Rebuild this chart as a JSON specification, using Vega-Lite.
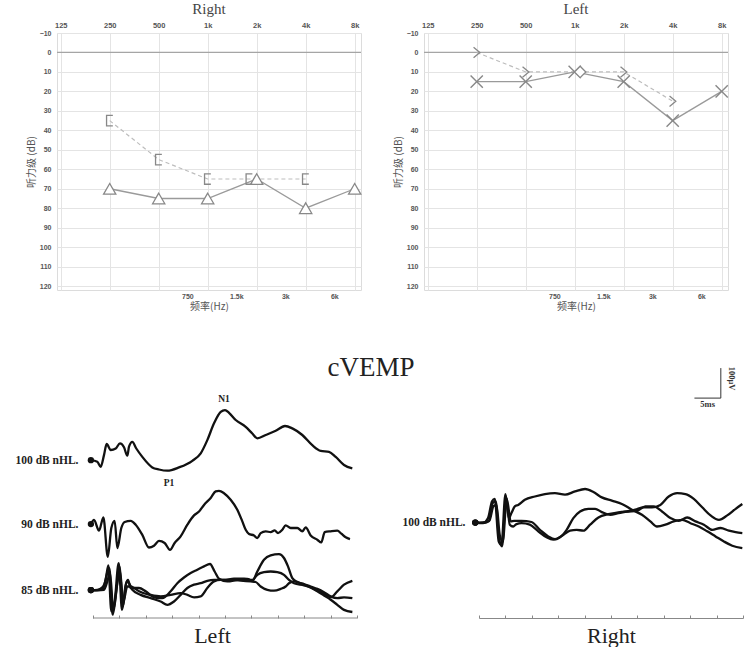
{
  "$schema": "https://vega.github.io/schema/vega-lite/v6.json",
  "background": "white",
  "padding": {"left": 15, "top": 1, "right": 0, "bottom": 0},
  "config": {
    "view": {"stroke": null},
    "axis": {"labelFont": "Liberation Sans", "titleFont": "Noto Sans CJK SC", "labelOverlap": false},
    "title": {"font": "Liberation Serif", "fontWeight": "normal"}
  },
  "datasets": {
    "audR": [
      {"s": "AC", "f": 250, "db": 70}, {"s": "AC", "f": 500, "db": 75}, {"s": "AC", "f": 1000, "db": 75},
      {"s": "AC", "f": 2000, "db": 65}, {"s": "AC", "f": 4000, "db": 80}, {"s": "AC", "f": 8000, "db": 70},
      {"s": "BC", "f": 250, "db": 35}, {"s": "BC", "f": 500, "db": 55}, {"s": "BC", "f": 1000, "db": 65},
      {"s": "BC", "f": 1800, "db": 65}, {"s": "BC", "f": 4000, "db": 65}
    ],
    "audL": [
      {"s": "AC", "f": 250, "db": 15}, {"s": "AC", "f": 500, "db": 15}, {"s": "AC", "f": 1000, "db": 10},
      {"s": "AC", "f": 2000, "db": 15}, {"s": "AC", "f": 4000, "db": 35}, {"s": "AC", "f": 8000, "db": 20},
      {"s": "BC", "f": 250, "db": 0}, {"s": "BC", "f": 500, "db": 10}, {"s": "BC", "f": 1080, "db": 10},
      {"s": "BC", "f": 2000, "db": 10}, {"s": "BC", "f": 4000, "db": 25}
    ],
    "zero": [{"db": 0}],
    "peaks": [
      {"peak": "N1", "t": 24.8, "v": 600},
      {"peak": "P1", "t": 14.4, "v": 398}
    ],
    "axisL": [{"label": "Left"}],
    "bar5ms": [{"label": "5ms"}],
    "bar100": [{"label": "100μV"}],
    "wL": [
      {"tr":"100","t":-0.4,"v":433},{"tr":"100","t":0.81,"v":428},{"tr":"100","t":1.46,"v":411},{"tr":"100","t":2.08,"v":450},{"tr":"100","t":2.59,"v":487},{"tr":"100","t":3.35,"v":467},{"tr":"100","t":4.3,"v":472},{"tr":"100","t":5.11,"v":489},{"tr":"100","t":5.87,"v":476},{"tr":"100","t":6.5,"v":448},{"tr":"100","t":6.82,"v":478},{"tr":"100","t":7.44,"v":494},{"tr":"100","t":8.2,"v":472},{"tr":"100","t":9.34,"v":444},{"tr":"100","t":11.23,"v":409},{"tr":"100","t":12.5,"v":402},{"tr":"100","t":14.07,"v":398},{"tr":"100","t":16.29,"v":409},{"tr":"100","t":18.81,"v":431},{"tr":"100","t":20.4,"v":456},{"tr":"100","t":21.65,"v":500},{"tr":"100","t":22.92,"v":556},{"tr":"100","t":24.19,"v":594},{"tr":"100","t":25.0,"v":600},{"tr":"100","t":25.76,"v":591},{"tr":"100","t":27.03,"v":567},{"tr":"100","t":28.92,"v":544},{"tr":"100","t":30.17,"v":522},{"tr":"100","t":31.12,"v":506},{"tr":"100","t":32.71,"v":517},{"tr":"100","t":34.6,"v":531},{"tr":"100","t":36.36,"v":547},{"tr":"100","t":37.75,"v":539},{"tr":"100","t":39.64,"v":517},{"tr":"100","t":41.53,"v":483},{"tr":"100","t":43.13,"v":464},{"tr":"100","t":44.7,"v":461},{"tr":"100","t":45.97,"v":444},{"tr":"100","t":47.54,"v":417},{"tr":"100","t":49.11,"v":406},
      {"tr":"90","t":-0.4,"v":220},{"tr":"90","t":0.19,"v":234},{"tr":"90","t":1.14,"v":198},{"tr":"90","t":1.96,"v":242},{"tr":"90","t":2.8,"v":111},{"tr":"90","t":3.47,"v":207},{"tr":"90","t":4.1,"v":231},{"tr":"90","t":4.61,"v":140},{"tr":"90","t":5.36,"v":207},{"tr":"90","t":6.0,"v":227},{"tr":"90","t":7.14,"v":231},{"tr":"90","t":8.08,"v":218},{"tr":"90","t":9.34,"v":184},{"tr":"90","t":10.6,"v":142},{"tr":"90","t":11.55,"v":148},{"tr":"90","t":12.5,"v":164},{"tr":"90","t":13.57,"v":157},{"tr":"90","t":14.58,"v":134},{"tr":"90","t":15.46,"v":157},{"tr":"90","t":16.6,"v":179},{"tr":"90","t":17.87,"v":218},{"tr":"90","t":19.13,"v":249},{"tr":"90","t":20.08,"v":262},{"tr":"90","t":21.02,"v":284},{"tr":"90","t":22.29,"v":307},{"tr":"90","t":23.23,"v":329},{"tr":"90","t":23.86,"v":331},{"tr":"90","t":24.81,"v":323},{"tr":"90","t":26.07,"v":301},{"tr":"90","t":27.33,"v":268},{"tr":"90","t":28.28,"v":229},{"tr":"90","t":28.92,"v":201},{"tr":"90","t":29.55,"v":187},{"tr":"90","t":30.49,"v":182},{"tr":"90","t":31.12,"v":173},{"tr":"90","t":31.76,"v":190},{"tr":"90","t":32.71,"v":196},{"tr":"90","t":33.65,"v":193},{"tr":"90","t":34.41,"v":199},{"tr":"90","t":35.04,"v":190},{"tr":"90","t":35.85,"v":201},{"tr":"90","t":36.49,"v":216},{"tr":"90","t":37.44,"v":207},{"tr":"90","t":38.7,"v":207},{"tr":"90","t":39.64,"v":196},{"tr":"90","t":40.28,"v":209},{"tr":"90","t":41.23,"v":182},{"tr":"90","t":42.48,"v":168},{"tr":"90","t":43.24,"v":159},{"tr":"90","t":43.88,"v":193},{"tr":"90","t":45.02,"v":196},{"tr":"90","t":46.27,"v":198},{"tr":"90","t":47.03,"v":188},{"tr":"90","t":47.86,"v":176},{"tr":"90","t":48.67,"v":170},
      {"tr":"85A","t":-0.4,"v":0},{"tr":"85A","t":0.82,"v":1},{"tr":"85A","t":1.77,"v":9},{"tr":"85A","t":2.4,"v":34},{"tr":"85A","t":2.9,"v":82},{"tr":"85A","t":3.47,"v":-71},{"tr":"85A","t":4.1,"v":-38},{"tr":"85A","t":4.86,"v":90},{"tr":"85A","t":5.49,"v":-66},{"tr":"85A","t":6.19,"v":18},{"tr":"85A","t":6.63,"v":34},{"tr":"85A","t":7.13,"v":7},{"tr":"85A","t":8.71,"v":7},{"tr":"85A","t":9.97,"v":-4},{"tr":"85A","t":11.55,"v":-24},{"tr":"85A","t":13.13,"v":-27},{"tr":"85A","t":14.71,"v":-4},{"tr":"85A","t":15.97,"v":23},{"tr":"85A","t":17.23,"v":42},{"tr":"85A","t":18.5,"v":57},{"tr":"85A","t":19.76,"v":68},{"tr":"85A","t":21.02,"v":79},{"tr":"85A","t":22.16,"v":87},{"tr":"85A","t":23.04,"v":62},{"tr":"85A","t":23.86,"v":38},{"tr":"85A","t":25.44,"v":29},{"tr":"85A","t":27.34,"v":34},{"tr":"85A","t":29.23,"v":37},{"tr":"85A","t":30.18,"v":31},{"tr":"85A","t":31.12,"v":62},{"tr":"85A","t":32.38,"v":101},{"tr":"85A","t":33.65,"v":116},{"tr":"85A","t":35.23,"v":120},{"tr":"85A","t":36.17,"v":107},{"tr":"85A","t":36.93,"v":79},{"tr":"85A","t":37.75,"v":40},{"tr":"85A","t":38.7,"v":27},{"tr":"85A","t":39.96,"v":20},{"tr":"85A","t":41.22,"v":12},{"tr":"85A","t":42.49,"v":4},{"tr":"85A","t":43.75,"v":-7},{"tr":"85A","t":45.01,"v":-21},{"tr":"85A","t":46.27,"v":-27},{"tr":"85A","t":47.54,"v":-24},{"tr":"85A","t":49.12,"v":-27},
      {"tr":"85B","t":-0.4,"v":0},{"tr":"85B","t":0.82,"v":-1},{"tr":"85B","t":1.96,"v":7},{"tr":"85B","t":2.59,"v":51},{"tr":"85B","t":3.09,"v":73},{"tr":"85B","t":3.72,"v":-82},{"tr":"85B","t":4.42,"v":-4},{"tr":"85B","t":4.99,"v":79},{"tr":"85B","t":5.68,"v":-54},{"tr":"85B","t":6.38,"v":29},{"tr":"85B","t":6.82,"v":23},{"tr":"85B","t":7.45,"v":1},{"tr":"85B","t":9.03,"v":-16},{"tr":"85B","t":10.92,"v":-27},{"tr":"85B","t":12.82,"v":-38},{"tr":"85B","t":14.08,"v":-49},{"tr":"85B","t":15.34,"v":-38},{"tr":"85B","t":16.6,"v":-16},{"tr":"85B","t":17.87,"v":7},{"tr":"85B","t":19.13,"v":18},{"tr":"85B","t":20.39,"v":23},{"tr":"85B","t":21.65,"v":31},{"tr":"85B","t":22.92,"v":34},{"tr":"85B","t":24.81,"v":34},{"tr":"85B","t":26.7,"v":38},{"tr":"85B","t":28.6,"v":38},{"tr":"85B","t":30.18,"v":34},{"tr":"85B","t":31.12,"v":51},{"tr":"85B","t":32.38,"v":60},{"tr":"85B","t":33.65,"v":62},{"tr":"85B","t":34.91,"v":60},{"tr":"85B","t":36.17,"v":51},{"tr":"85B","t":37.12,"v":34},{"tr":"85B","t":38.07,"v":23},{"tr":"85B","t":39.96,"v":16},{"tr":"85B","t":41.22,"v":9},{"tr":"85B","t":42.49,"v":-2},{"tr":"85B","t":43.75,"v":-13},{"tr":"85B","t":45.01,"v":-24},{"tr":"85B","t":46.27,"v":-4},{"tr":"85B","t":47.54,"v":18},{"tr":"85B","t":49.12,"v":31},
      {"tr":"85C","t":-0.4,"v":0},{"tr":"85C","t":0.95,"v":0},{"tr":"85C","t":2.08,"v":1},{"tr":"85C","t":2.71,"v":29},{"tr":"85C","t":3.22,"v":57},{"tr":"85C","t":3.85,"v":-66},{"tr":"85C","t":4.55,"v":18},{"tr":"85C","t":5.11,"v":62},{"tr":"85C","t":5.74,"v":-38},{"tr":"85C","t":6.5,"v":12},{"tr":"85C","t":7.13,"v":12},{"tr":"85C","t":7.76,"v":7},{"tr":"85C","t":8.71,"v":-4},{"tr":"85C","t":10.92,"v":-16},{"tr":"85C","t":12.82,"v":-21},{"tr":"85C","t":14.71,"v":-16},{"tr":"85C","t":16.6,"v":-10},{"tr":"85C","t":17.87,"v":-16},{"tr":"85C","t":19.13,"v":-24},{"tr":"85C","t":20.39,"v":-21},{"tr":"85C","t":21.65,"v":7},{"tr":"85C","t":22.92,"v":29},{"tr":"85C","t":24.18,"v":34},{"tr":"85C","t":26.07,"v":34},{"tr":"85C","t":27.97,"v":32},{"tr":"85C","t":29.86,"v":29},{"tr":"85C","t":30.81,"v":27},{"tr":"85C","t":31.75,"v":12},{"tr":"85C","t":33.02,"v":1},{"tr":"85C","t":34.28,"v":-2},{"tr":"85C","t":35.54,"v":4},{"tr":"85C","t":36.49,"v":12},{"tr":"85C","t":37.12,"v":23},{"tr":"85C","t":38.07,"v":29},{"tr":"85C","t":39.96,"v":18},{"tr":"85C","t":41.22,"v":9},{"tr":"85C","t":42.49,"v":-4},{"tr":"85C","t":43.75,"v":-18},{"tr":"85C","t":45.01,"v":-32},{"tr":"85C","t":46.27,"v":-49},{"tr":"85C","t":47.54,"v":-66},{"tr":"85C","t":49.12,"v":-73}
    ],
    "wR": [
      {"tr":"R1","t":-0.7,"v":225},{"tr":"R1","t":0.76,"v":224},{"tr":"R1","t":1.71,"v":240},{"tr":"R1","t":2.47,"v":296},{"tr":"R1","t":2.98,"v":304},{"tr":"R1","t":3.74,"v":162},{"tr":"R1","t":4.25,"v":151},{"tr":"R1","t":5.01,"v":320},{"tr":"R1","t":5.64,"v":240},{"tr":"R1","t":6.15,"v":257},{"tr":"R1","t":6.78,"v":279},{"tr":"R1","t":7.41,"v":284},{"tr":"R1","t":8.68,"v":301},{"tr":"R1","t":10.58,"v":312},{"tr":"R1","t":12.48,"v":320},{"tr":"R1","t":14.39,"v":323},{"tr":"R1","t":16.29,"v":318},{"tr":"R1","t":18.19,"v":329},{"tr":"R1","t":20.09,"v":337},{"tr":"R1","t":21.67,"v":327},{"tr":"R1","t":23.26,"v":309},{"tr":"R1","t":25.16,"v":298},{"tr":"R1","t":27.06,"v":287},{"tr":"R1","t":28.96,"v":268},{"tr":"R1","t":30.86,"v":251},{"tr":"R1","t":32.45,"v":229},{"tr":"R1","t":33.71,"v":212},{"tr":"R1","t":35.3,"v":218},{"tr":"R1","t":36.88,"v":229},{"tr":"R1","t":38.47,"v":234},{"tr":"R1","t":40.05,"v":223},{"tr":"R1","t":41.63,"v":212},{"tr":"R1","t":43.22,"v":196},{"tr":"R1","t":44.8,"v":179},{"tr":"R1","t":46.39,"v":162},{"tr":"R1","t":47.97,"v":148},{"tr":"R1","t":49.87,"v":140},
      {"tr":"R2","t":-0.7,"v":225},{"tr":"R2","t":0.76,"v":223},{"tr":"R2","t":1.84,"v":229},{"tr":"R2","t":2.6,"v":290},{"tr":"R2","t":3.17,"v":296},{"tr":"R2","t":3.8,"v":173},{"tr":"R2","t":4.37,"v":146},{"tr":"R2","t":5.13,"v":312},{"tr":"R2","t":5.83,"v":218},{"tr":"R2","t":6.46,"v":212},{"tr":"R2","t":7.1,"v":220},{"tr":"R2","t":8.05,"v":223},{"tr":"R2","t":9.63,"v":218},{"tr":"R2","t":11.22,"v":196},{"tr":"R2","t":12.8,"v":176},{"tr":"R2","t":14.07,"v":168},{"tr":"R2","t":15.34,"v":176},{"tr":"R2","t":16.6,"v":201},{"tr":"R2","t":17.87,"v":240},{"tr":"R2","t":19.14,"v":262},{"tr":"R2","t":20.72,"v":271},{"tr":"R2","t":21.99,"v":271},{"tr":"R2","t":23.26,"v":260},{"tr":"R2","t":24.84,"v":251},{"tr":"R2","t":26.43,"v":257},{"tr":"R2","t":28.01,"v":262},{"tr":"R2","t":29.59,"v":268},{"tr":"R2","t":31.18,"v":276},{"tr":"R2","t":32.76,"v":276},{"tr":"R2","t":34.35,"v":284},{"tr":"R2","t":35.93,"v":312},{"tr":"R2","t":37.52,"v":323},{"tr":"R2","t":39.1,"v":320},{"tr":"R2","t":40.68,"v":304},{"tr":"R2","t":42.27,"v":276},{"tr":"R2","t":43.85,"v":249},{"tr":"R2","t":45.44,"v":234},{"tr":"R2","t":47.02,"v":249},{"tr":"R2","t":48.61,"v":271},{"tr":"R2","t":49.87,"v":287},
      {"tr":"R3","t":-0.7,"v":225},{"tr":"R3","t":0.76,"v":226},{"tr":"R3","t":1.96,"v":231},{"tr":"R3","t":2.72,"v":279},{"tr":"R3","t":3.3,"v":284},{"tr":"R3","t":3.93,"v":184},{"tr":"R3","t":4.5,"v":162},{"tr":"R3","t":5.26,"v":304},{"tr":"R3","t":6.02,"v":229},{"tr":"R3","t":6.65,"v":231},{"tr":"R3","t":7.29,"v":231},{"tr":"R3","t":8.05,"v":231},{"tr":"R3","t":9.95,"v":227},{"tr":"R3","t":11.53,"v":201},{"tr":"R3","t":13.12,"v":179},{"tr":"R3","t":14.39,"v":170},{"tr":"R3","t":15.97,"v":184},{"tr":"R3","t":17.24,"v":198},{"tr":"R3","t":18.5,"v":201},{"tr":"R3","t":19.77,"v":198},{"tr":"R3","t":21.04,"v":218},{"tr":"R3","t":22.62,"v":242},{"tr":"R3","t":24.52,"v":253},{"tr":"R3","t":26.43,"v":259},{"tr":"R3","t":28.33,"v":262},{"tr":"R3","t":29.91,"v":264},{"tr":"R3","t":31.5,"v":279},{"tr":"R3","t":33.08,"v":279},{"tr":"R3","t":34.66,"v":262},{"tr":"R3","t":36.25,"v":240},{"tr":"R3","t":37.83,"v":231},{"tr":"R3","t":39.42,"v":242},{"tr":"R3","t":41.0,"v":229},{"tr":"R3","t":42.59,"v":218},{"tr":"R3","t":44.17,"v":201},{"tr":"R3","t":45.75,"v":207},{"tr":"R3","t":47.34,"v":198},{"tr":"R3","t":48.61,"v":193},{"tr":"R3","t":49.87,"v":190}
    ]
  },
  "spacing": 42,
  "vconcat": [
    {
      "spacing": 28,
      "hconcat": [
        {
          "width": 304, "height": 257,
          "title": {"text": "Right", "fontSize": 15, "color": "#444", "offset": 4},
          "view": {"stroke": "#dcdcdc"},
          "layer": [
            {"data": {"name": "zero"},
             "mark": {"type": "rule", "color": "#a5a5a5", "strokeWidth": 1.2},
             "encoding": {"y": {"field": "db", "type": "quantitative",
               "scale": {"domain": [-10, 122], "reverse": true, "nice": false, "zero": false},
               "axis": {"values": [-10,0,10,20,30,40,50,60,70,80,90,100,110,120], "tickCount": 14, "labelOverlap": false, "grid": true, "gridColor": "#e4e4e4", "domain": false, "ticks": false, "labelFontSize": 7, "labelFontWeight": "bold", "labelColor": "#555", "labelPadding": 6, "title": "听力级 (dB)", "titleFontSize": 10, "titleFontWeight": "normal", "titleColor": "#555", "titlePadding": 3}}}},
            {"data": {"name": "audR"},
             "transform": [{"filter": "datum.s == 'BC'"}],
             "mark": {"type": "line", "color": "#bdbdbd", "strokeWidth": 1.2, "strokeDash": [4, 3]},
             "encoding": {
               "x": {"field": "f", "type": "quantitative", "scale": {"type": "log", "domain": [118.6, 8750], "nice": false},
                 "axis": {"orient": "bottom", "values": [750, 1500, 3000, 6000], "tickCount": 4, "labelExpr": "datum.value >= 1000 ? (datum.value/1000) + 'k' : '' + datum.value", "grid": false, "domain": false, "ticks": false, "labelFontSize": 7, "labelFontWeight": "bold", "labelColor": "#555", "labelPadding": 2, "title": "频率(Hz)", "titleFontSize": 10, "titleFontWeight": "normal", "titleColor": "#555", "titlePadding": 2}},
               "y": {"field": "db", "type": "quantitative"}}},
            {"data": {"name": "audR"},
             "transform": [{"filter": "datum.s == 'AC'"}],
             "mark": {"type": "line", "color": "#9a9a9a", "strokeWidth": 1.3},
             "encoding": {
               "x": {"field": "f", "type": "quantitative", "scale": {"type": "log", "domain": [118.6, 8750], "nice": false},
                 "axis": {"orient": "top", "values": [125, 250, 500, 1000, 2000, 4000, 8000], "tickCount": 7, "labelExpr": "datum.value >= 1000 ? (datum.value/1000) + 'k' : '' + datum.value", "grid": true, "gridColor": "#e4e4e4", "domain": false, "ticks": false, "labelFontSize": 7.5, "labelFontWeight": "bold", "labelColor": "#555", "labelPadding": 4, "title": null}},
               "y": {"field": "db", "type": "quantitative"}}},
            {"data": {"name": "audR"},
             "transform": [{"filter": "datum.s == 'AC'"}],
             "mark": {"type": "point", "shape": "triangle-up", "size": 150, "filled": true, "fill": "white", "stroke": "#888", "strokeWidth": 1.3, "opacity": 1},
             "encoding": {"x": {"field": "f", "type": "quantitative", "axis": null}, "y": {"field": "db", "type": "quantitative"}}},
            {"data": {"name": "audR"},
             "transform": [{"filter": "datum.s == 'BC'"}],
             "mark": {"type": "point", "shape": "M 0.6 -1 L -0.6 -1 L -0.6 1 L 0.6 1", "size": 110, "filled": false, "stroke": "#888", "strokeWidth": 1.3, "opacity": 1},
             "encoding": {"x": {"field": "f", "type": "quantitative", "axis": null}, "y": {"field": "db", "type": "quantitative"}}}
          ],
          "resolve": {"axis": {"x": "independent"}}
        },
        {
          "width": 304, "height": 257,
          "title": {"text": "Left", "fontSize": 15, "color": "#444", "offset": 4},
          "view": {"stroke": "#dcdcdc"},
          "layer": [
            {"data": {"name": "zero"},
             "mark": {"type": "rule", "color": "#a5a5a5", "strokeWidth": 1.2},
             "encoding": {"y": {"field": "db", "type": "quantitative",
               "scale": {"domain": [-10, 122], "reverse": true, "nice": false, "zero": false},
               "axis": {"values": [-10,0,10,20,30,40,50,60,70,80,90,100,110,120], "tickCount": 14, "labelOverlap": false, "grid": true, "gridColor": "#e4e4e4", "domain": false, "ticks": false, "labelFontSize": 7, "labelFontWeight": "bold", "labelColor": "#555", "labelPadding": 6, "title": "听力级 (dB)", "titleFontSize": 10, "titleFontWeight": "normal", "titleColor": "#555", "titlePadding": 3}}}},
            {"data": {"name": "audL"},
             "transform": [{"filter": "datum.s == 'BC'"}],
             "mark": {"type": "line", "color": "#bdbdbd", "strokeWidth": 1.2, "strokeDash": [4, 3]},
             "encoding": {
               "x": {"field": "f", "type": "quantitative", "scale": {"type": "log", "domain": [118.6, 8750], "nice": false},
                 "axis": {"orient": "bottom", "values": [750, 1500, 3000, 6000], "tickCount": 4, "labelExpr": "datum.value >= 1000 ? (datum.value/1000) + 'k' : '' + datum.value", "grid": false, "domain": false, "ticks": false, "labelFontSize": 7, "labelFontWeight": "bold", "labelColor": "#555", "labelPadding": 2, "title": "频率(Hz)", "titleFontSize": 10, "titleFontWeight": "normal", "titleColor": "#555", "titlePadding": 2}},
               "y": {"field": "db", "type": "quantitative"}}},
            {"data": {"name": "audL"},
             "transform": [{"filter": "datum.s == 'AC'"}],
             "mark": {"type": "line", "color": "#9a9a9a", "strokeWidth": 1.3},
             "encoding": {
               "x": {"field": "f", "type": "quantitative", "scale": {"type": "log", "domain": [118.6, 8750], "nice": false},
                 "axis": {"orient": "top", "values": [125, 250, 500, 1000, 2000, 4000, 8000], "tickCount": 7, "labelExpr": "datum.value >= 1000 ? (datum.value/1000) + 'k' : '' + datum.value", "grid": true, "gridColor": "#e4e4e4", "domain": false, "ticks": false, "labelFontSize": 7.5, "labelFontWeight": "bold", "labelColor": "#555", "labelPadding": 4, "title": null}},
               "y": {"field": "db", "type": "quantitative"}}},
            {"data": {"name": "audL"},
             "transform": [{"filter": "datum.s == 'AC'"}],
             "mark": {"type": "point", "shape": "M -1 -1 L 1 1 M -1 1 L 1 -1", "size": 150, "filled": false, "stroke": "#888", "strokeWidth": 1.4, "opacity": 1},
             "encoding": {"x": {"field": "f", "type": "quantitative", "axis": null}, "y": {"field": "db", "type": "quantitative"}}},
            {"data": {"name": "audL"},
             "transform": [{"filter": "datum.s == 'BC' && datum.f != 1080"}],
             "mark": {"type": "point", "shape": "M -0.6 -1 L 0.6 0 L -0.6 1", "size": 110, "filled": false, "stroke": "#888", "strokeWidth": 1.3, "opacity": 1},
             "encoding": {"x": {"field": "f", "type": "quantitative", "axis": null}, "y": {"field": "db", "type": "quantitative"}}},
            {"data": {"name": "audL"},
             "transform": [{"filter": "datum.s == 'BC' && datum.f == 1080"}],
             "mark": {"type": "point", "shape": "diamond", "size": 130, "filled": true, "fill": "white", "stroke": "#888", "strokeWidth": 1.3, "opacity": 1},
             "encoding": {"x": {"field": "f", "type": "quantitative", "axis": null}, "y": {"field": "db", "type": "quantitative"}}}
          ],
          "resolve": {"axis": {"x": "independent"}}
        }
      ]
    },
    {
      "title": {"text": "cVEMP", "fontSize": 27, "color": "#222", "anchor": "middle", "offset": -28, "dx": -10},
      "spacing": 44,
      "hconcat": [
        {
          "width": 300, "height": 264,
          "layer": [
            {"data": {"name": "wL"},
             "mark": {"type": "line", "color": "#111", "strokeWidth": 2.3, "interpolate": "monotone"},
             "encoding": {
               "x": {"field": "t", "type": "quantitative", "scale": {"domain": [-6.82, 50], "nice": false, "zero": false},
                 "axis": {"values": [0,5,10,15,20,25,30,35,40,45,50], "tickCount": 11, "labels": false, "grid": false, "domain": false, "tickColor": "#888", "tickSize": -3, "title": "Left", "titleFont": "Liberation Serif", "titleFontSize": 22, "titleFontWeight": "normal", "titleColor": "#222", "titlePadding": 7, "titleX": 155}},
               "y": {"field": "v", "type": "quantitative", "scale": {"domain": [-93, 787], "nice": false, "zero": false},
                 "axis": {"values": [0, 220, 433], "tickCount": 3, "labelExpr": "datum.value > 400 ? '100 dB nHL.' : datum.value > 100 ? '90 dB nHL.' : '85 dB nHL.'", "domain": false, "ticks": false, "grid": false, "title": null, "labelFont": "Liberation Serif", "labelFontWeight": "bold", "labelFontSize": 11.5, "labelColor": "#222", "labelPadding": -21}},
               "detail": {"field": "tr"}}},
            {"data": {"name": "axisL"},
             "mark": {"type": "rule", "color": "#888", "strokeWidth": 1},
             "encoding": {"x": {"datum": 0}, "x2": {"datum": 50}, "y": {"datum": -93}}},
            {"data": {"name": "wL"},
             "transform": [{"filter": "datum.t < 0"}],
             "mark": {"type": "point", "filled": true, "color": "#111", "size": 40, "opacity": 1},
             "encoding": {"x": {"field": "t", "type": "quantitative"}, "y": {"field": "v", "type": "quantitative"}}},
            {"data": {"name": "peaks"},
             "transform": [{"filter": "datum.peak == 'N1'"}],
             "mark": {"type": "text", "font": "Liberation Serif", "fontWeight": "bold", "fontSize": 9.5, "color": "#222", "dy": -11},
             "encoding": {"x": {"field": "t", "type": "quantitative"}, "y": {"field": "v", "type": "quantitative"}, "text": {"field": "peak"}}},
            {"data": {"name": "peaks"},
             "transform": [{"filter": "datum.peak == 'P1'"}],
             "mark": {"type": "text", "font": "Liberation Serif", "fontWeight": "bold", "fontSize": 9.5, "color": "#222", "dy": 12},
             "encoding": {"x": {"field": "t", "type": "quantitative"}, "y": {"field": "v", "type": "quantitative"}, "text": {"field": "peak"}}}
          ]
        },
        {
          "width": 264, "height": 264,
          "layer": [
            {"data": {"name": "wR"},
             "mark": {"type": "line", "color": "#111", "strokeWidth": 2.3, "interpolate": "monotone"},
             "encoding": {
               "x": {"field": "t", "type": "quantitative", "scale": {"domain": [0, 50], "nice": false, "zero": false},
                 "axis": {"values": [0,5,10,15,20,25,30,35,40,45,50], "tickCount": 11, "labels": false, "grid": false, "domainColor": "#888", "tickColor": "#888", "tickSize": -3, "title": "Right", "titleFont": "Liberation Serif", "titleFontSize": 22, "titleFontWeight": "normal", "titleColor": "#222", "titlePadding": 7}},
               "y": {"field": "v", "type": "quantitative", "scale": {"domain": [-93, 787], "nice": false, "zero": false},
                 "axis": {"values": [225], "labelExpr": "'100 dB nHL.'", "domain": false, "ticks": false, "grid": false, "title": null, "labelFont": "Liberation Serif", "labelFontWeight": "bold", "labelFontSize": 11.5, "labelColor": "#222", "labelPadding": 14}},
               "detail": {"field": "tr"}}},
            {"data": {"name": "wR"},
             "transform": [{"filter": "datum.t < 0"}],
             "mark": {"type": "point", "filled": true, "color": "#111", "size": 40, "opacity": 1},
             "encoding": {"x": {"field": "t", "type": "quantitative"}, "y": {"field": "v", "type": "quantitative"}}},
            {"data": {"name": "bar5ms"},
             "mark": {"type": "rule", "color": "#333", "strokeWidth": 1},
             "encoding": {"x": {"datum": 40.8}, "x2": {"datum": 45.8}, "y": {"datum": 640}}},
            {"data": {"name": "bar100"},
             "mark": {"type": "rule", "color": "#333", "strokeWidth": 1},
             "encoding": {"x": {"datum": 45.8}, "y": {"datum": 640}, "y2": {"datum": 740}}},
            {"data": {"name": "bar5ms"},
             "mark": {"type": "text", "font": "Liberation Serif", "fontWeight": "bold", "fontSize": 8.5, "color": "#333"},
             "encoding": {"x": {"datum": 43.3}, "y": {"datum": 620}, "text": {"field": "label"}}},
            {"data": {"name": "bar100"},
             "mark": {"type": "text", "angle": 90, "font": "Liberation Serif", "fontWeight": "bold", "fontSize": 8.5, "color": "#333"},
             "encoding": {"x": {"datum": 47.9}, "y": {"datum": 705}, "text": {"field": "label"}}}
          ]
        }
      ]
    }
  ]
}
